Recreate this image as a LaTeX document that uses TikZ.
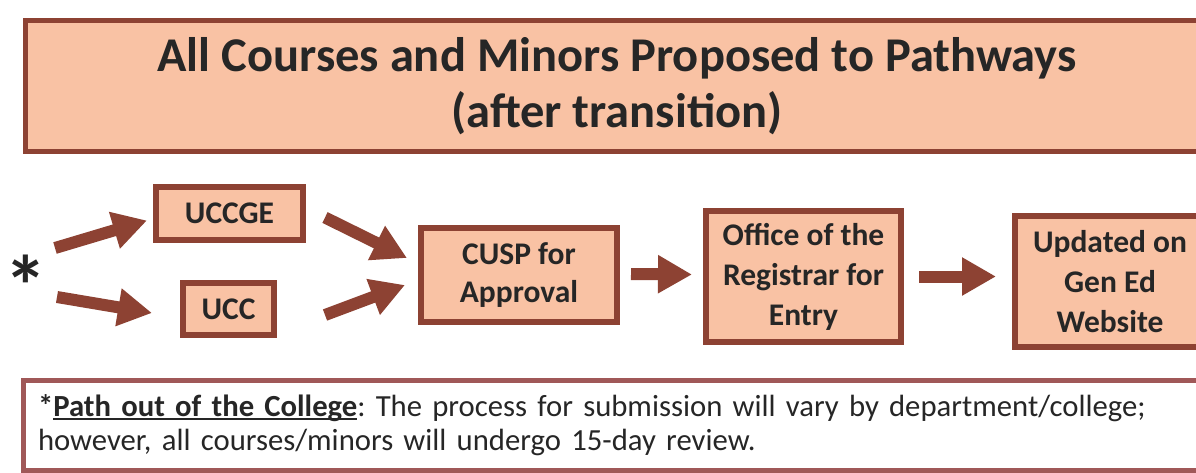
\documentclass[tikz,border=0pt]{standalone}
\usepackage{fontspec}
\setmainfont{Carlito}
\usetikzlibrary{arrows.meta}
\definecolor{peach}{HTML}{F9C2A4}
\definecolor{rust}{HTML}{8D4233}
\definecolor{notered}{HTML}{A05858}
\definecolor{inkgray}{HTML}{262626}
\newcommand\ulbase[1]{\setbox0\hbox{#1}\rlap{\rule[-3.5pt]{\wd0}{2pt}}\box0}
\frenchspacing
\tikzset{
  stepbox/.style={draw=rust, fill=peach, line width=6pt, align=center, inner sep=0pt,
    text=inkgray, font=\fontsize{31.5}{40}\selectfont\bfseries},
  flow/.style={draw=rust, line width=12pt, -{Triangle[length=34pt,width=36pt]}},
}
\begin{document}
\begin{tikzpicture}[x=1pt,y=-1pt]
\useasboundingbox (0,0) rectangle (1196,472);
\begin{scope}
\clip (0,0) rectangle (1196,472);
% header
\node[stepbox, line width=5pt, minimum width=1183pt, minimum height=131pt,
  font=\fontsize{48.5}{56}\selectfont\bfseries] (title) at (617,86)
  {\raisebox{-3pt}{All Courses and Minors Proposed to Pathways}\\\raisebox{-3pt}{(after transition)}};
% steps
\node[text=inkgray, font=\fontsize{86}{86}\selectfont\bfseries, inner sep=0pt, anchor=base] (star) at (26,316) {*};
\node[stepbox, minimum width=147pt, minimum height=53pt] (uccge) at (229.5,213.5) {UCCGE};
\node[stepbox, minimum width=91pt, minimum height=52pt] (ucc) at (228.5,309) {UCC};
\node[stepbox, minimum width=196pt, minimum height=94pt, font=\fontsize{31.5}{38}\selectfont\bfseries] (cusp) at (519,275) {CUSP for\\Approval};
\node[stepbox, minimum width=195pt, minimum height=131pt] (office) at (803.5,276.5) {Office of the\\Registrar for\\Entry};
\node[stepbox, minimum width=190pt, minimum height=131pt] (updated) at (1110,281.5) {Updated on\\Gen Ed\\Website};
% arrows
\draw[flow] ([shift={(29,-68)}]star.base) -- ([shift={(-6,7)}]uccge.west);
\draw[flow] ([shift={(31,-19)}]star.base) -- ([shift={(-28,4)}]ucc.west);
\draw[flow] ([shift={(19,4)}]uccge.east) -- ([shift={(-11,-17)}]cusp.west);
\draw[flow] ([shift={(48,6)}]ucc.east) -- ([shift={(-13,10)}]cusp.west);
\draw[flow] ([shift={(11,-1)}]cusp.east) -- ([shift={(-11,-2)}]office.west);
\draw[flow] ([shift={(15,0)}]office.east) -- ([shift={(-16,-5)}]updated.west);
% footnote
\node[draw=notered, line width=5pt, anchor=north west, minimum width=1200pt, minimum height=90pt,
  text width=1170pt, align=left, inner xsep=12pt, inner ysep=0pt, text=inkgray,
  font=\fontsize{30.7}{34}\selectfont] (note) at (20.5,378)
  {\textbf{*\ulbase{Path out of the College}}: The process for submission will vary by department/college;\\
   however, all courses/minors will undergo 15-day review.};
\end{scope}
\end{tikzpicture}
\end{document}
